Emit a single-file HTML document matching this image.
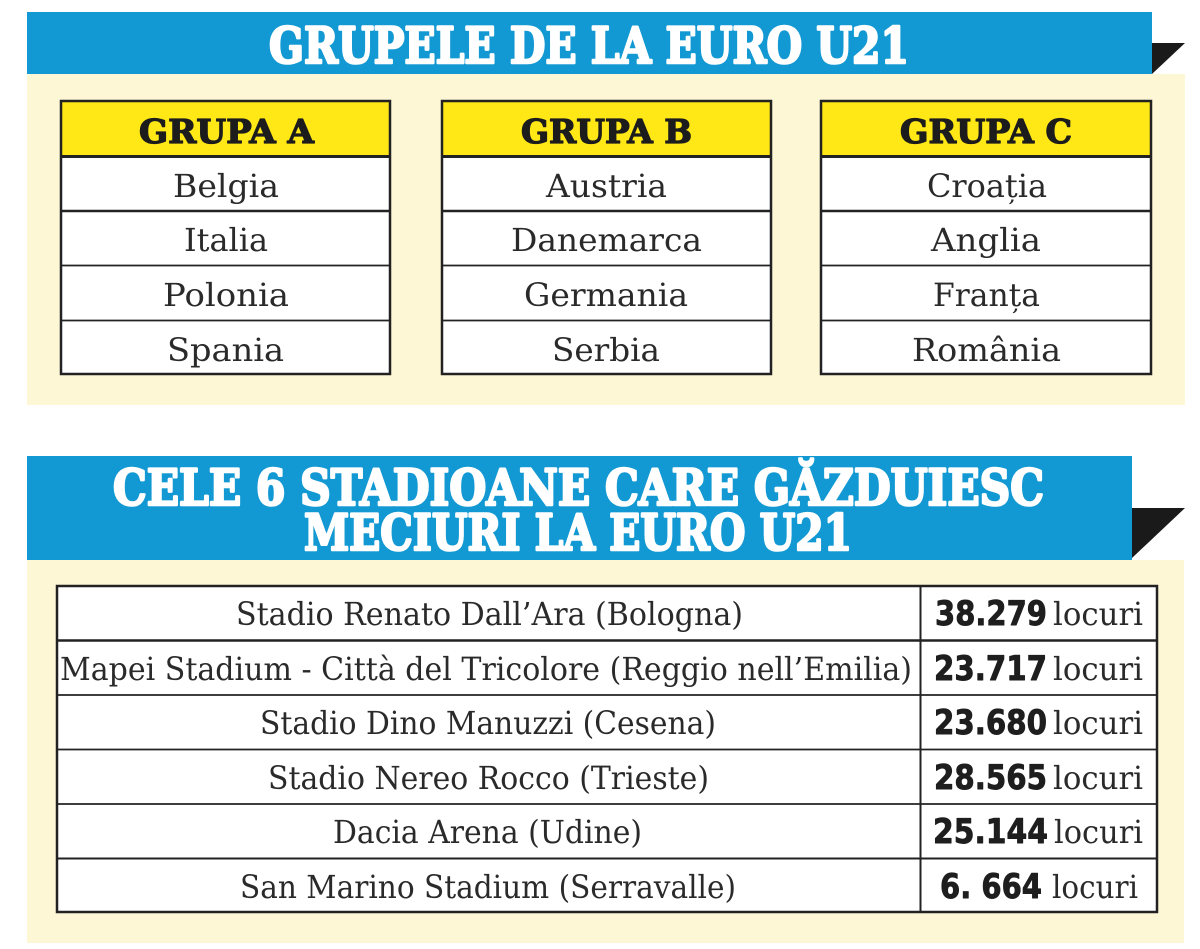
<!DOCTYPE html>
<html>
<head>
<meta charset="utf-8">
<style>
  html,body{margin:0;padding:0;background:#ffffff;}
  svg{display:block;}
  .t{font-family:"DejaVu Serif","Liberation Serif",serif;font-weight:bold;fill:#ffffff;stroke:#ffffff;stroke-width:2.6;stroke-linejoin:round;}
  .h{font-family:"DejaVu Serif","Liberation Serif",serif;font-weight:bold;fill:#1c1c1c;stroke:#1c1c1c;stroke-width:1.3;stroke-linejoin:round;}
  .b{font-family:"DejaVu Serif","Liberation Serif",serif;font-weight:normal;fill:#2a2a2a;}
  .n{font-family:"DejaVu Sans","Liberation Sans",sans-serif;font-weight:bold;fill:#1e1e1e;stroke:#1e1e1e;stroke-width:0.9;stroke-linejoin:round;}
</style>
</head>
<body>
<svg width="1200" height="949" viewBox="0 0 1200 949" xmlns="http://www.w3.org/2000/svg">
  <rect x="0" y="0" width="1200" height="949" fill="#ffffff"/>

  <!-- Panel 1 -->
  <rect x="27" y="74" width="1158" height="331" fill="#fdf7d6"/>
  <rect x="27" y="12" width="1125" height="62" fill="#1298d2"/>
  <polygon points="1152,43 1185,43 1152,74" fill="#1a1a1a"/>
  <text class="t" x="269" y="63" font-size="50" textLength="640" lengthAdjust="spacingAndGlyphs">GRUPELE DE LA EURO U21</text>

  <!-- Group tables -->
  <g>
    <rect x="60" y="100" width="331" height="56" fill="#ffe816"/>
    <rect x="60" y="156" width="331" height="219" fill="#ffffff"/>
    <rect x="441" y="100" width="331" height="56" fill="#ffe816"/>
    <rect x="441" y="156" width="331" height="219" fill="#ffffff"/>
    <rect x="820" y="100" width="332" height="56" fill="#ffe816"/>
    <rect x="820" y="156" width="332" height="219" fill="#ffffff"/>

    <g stroke="#222" fill="none">
      <rect x="61" y="101" width="329" height="273" stroke-width="2.5"/>
      <rect x="442" y="101" width="329" height="273" stroke-width="2.5"/>
      <rect x="821" y="101" width="330" height="273" stroke-width="2.5"/>
      <path d="M60 156.5H391M441 156.5H772M820 156.5H1152" stroke-width="3"/>
      <path d="M60 211H391M441 211H772M820 211H1152" stroke-width="2.5"/>
      <path d="M60 265.5H391M441 265.5H772M820 265.5H1152" stroke-width="1.8"/>
      <path d="M60 320.5H391M441 320.5H772M820 320.5H1152" stroke-width="1.8"/>
    </g>

    <text class="h" x="139" y="143" font-size="33" textLength="175" lengthAdjust="spacingAndGlyphs">GRUPA A</text>
    <text class="h" x="521" y="143" font-size="33" textLength="171" lengthAdjust="spacingAndGlyphs">GRUPA B</text>
    <text class="h" x="900" y="143" font-size="33" textLength="172" lengthAdjust="spacingAndGlyphs">GRUPA C</text>

    <text class="b" x="173" y="197" font-size="32" textLength="106" lengthAdjust="spacingAndGlyphs">Belgia</text>
    <text class="b" x="184" y="251" font-size="32" textLength="84" lengthAdjust="spacingAndGlyphs">Italia</text>
    <text class="b" x="163" y="306" font-size="32" textLength="126" lengthAdjust="spacingAndGlyphs">Polonia</text>
    <text class="b" x="167" y="361" font-size="32" textLength="117" lengthAdjust="spacingAndGlyphs">Spania</text>

    <text class="b" x="546" y="197" font-size="32" textLength="121" lengthAdjust="spacingAndGlyphs">Austria</text>
    <text class="b" x="511" y="251" font-size="32" textLength="191" lengthAdjust="spacingAndGlyphs">Danemarca</text>
    <text class="b" x="524" y="306" font-size="32" textLength="164" lengthAdjust="spacingAndGlyphs">Germania</text>
    <text class="b" x="552" y="361" font-size="32" textLength="108" lengthAdjust="spacingAndGlyphs">Serbia</text>

    <text class="b" x="927" y="197" font-size="32" textLength="120" lengthAdjust="spacingAndGlyphs">Croația</text>
    <text class="b" x="931" y="251" font-size="32" textLength="110" lengthAdjust="spacingAndGlyphs">Anglia</text>
    <text class="b" x="933" y="306" font-size="32" textLength="107" lengthAdjust="spacingAndGlyphs">Franța</text>
    <text class="b" x="912" y="361" font-size="32" textLength="149" lengthAdjust="spacingAndGlyphs">România</text>
  </g>

  <!-- Panel 2 -->
  <rect x="27" y="560" width="1157" height="383" fill="#fdf7d6"/>
  <rect x="27" y="456" width="1105" height="104" fill="#1298d2"/>
  <polygon points="1132,508 1185,508 1132,558" fill="#1a1a1a"/>
  <text class="t" x="113" y="505" font-size="50" textLength="931" lengthAdjust="spacingAndGlyphs">CELE 6 STADIOANE CARE GĂZDUIESC</text>
  <text class="t" x="304" y="550" font-size="50" textLength="548" lengthAdjust="spacingAndGlyphs">MECIURI LA EURO U21</text>

  <!-- Stadium table -->
  <rect x="56" y="585" width="1102" height="328" fill="#ffffff"/>
  <g stroke="#222" fill="none">
    <rect x="57" y="586" width="1100" height="326" stroke-width="2.5"/>
    <path d="M920.5 585V913" stroke-width="2"/>
    <path d="M56 640.5H1158" stroke-width="2.5"/>
    <path d="M56 695H1158" stroke-width="1.8"/>
    <path d="M56 749.5H1158" stroke-width="1.8"/>
    <path d="M56 804H1158" stroke-width="1.8"/>
    <path d="M56 858.5H1158" stroke-width="2"/>
  </g>

  <text class="b" x="236" y="625" font-size="32" textLength="507" lengthAdjust="spacingAndGlyphs">Stadio Renato Dall’Ara (Bologna)</text>
  <text class="b" x="60" y="680" font-size="32" textLength="852" lengthAdjust="spacingAndGlyphs">Mapei Stadium - Città del Tricolore (Reggio nell’Emilia)</text>
  <text class="b" x="260" y="734" font-size="32" textLength="456" lengthAdjust="spacingAndGlyphs">Stadio Dino Manuzzi (Cesena)</text>
  <text class="b" x="268" y="789" font-size="32" textLength="441" lengthAdjust="spacingAndGlyphs">Stadio Nereo Rocco (Trieste)</text>
  <text class="b" x="333" y="843" font-size="32" textLength="309" lengthAdjust="spacingAndGlyphs">Dacia Arena (Udine)</text>
  <text class="b" x="240" y="898" font-size="32" textLength="496" lengthAdjust="spacingAndGlyphs">San Marino Stadium (Serravalle)</text>

  <text class="n" x="935" y="625" font-size="34" textLength="112" lengthAdjust="spacingAndGlyphs">38.279</text>
  <text class="b" x="1053" y="625" font-size="32" textLength="90" lengthAdjust="spacingAndGlyphs">locuri</text>
  <text class="n" x="934" y="680" font-size="34" textLength="113" lengthAdjust="spacingAndGlyphs">23.717</text>
  <text class="b" x="1053" y="680" font-size="32" textLength="90" lengthAdjust="spacingAndGlyphs">locuri</text>
  <text class="n" x="934" y="734" font-size="34" textLength="113" lengthAdjust="spacingAndGlyphs">23.680</text>
  <text class="b" x="1053" y="734" font-size="32" textLength="90" lengthAdjust="spacingAndGlyphs">locuri</text>
  <text class="n" x="934" y="789" font-size="34" textLength="113" lengthAdjust="spacingAndGlyphs">28.565</text>
  <text class="b" x="1053" y="789" font-size="32" textLength="90" lengthAdjust="spacingAndGlyphs">locuri</text>
  <text class="n" x="933" y="843" font-size="34" textLength="115" lengthAdjust="spacingAndGlyphs">25.144</text>
  <text class="b" x="1054" y="843" font-size="32" textLength="89" lengthAdjust="spacingAndGlyphs">locuri</text>
  <text class="n" x="940" y="898" font-size="34" textLength="102" lengthAdjust="spacingAndGlyphs">6. 664</text>
  <text class="b" x="1052" y="898" font-size="32" textLength="86" lengthAdjust="spacingAndGlyphs">locuri</text>
</svg>
</body>
</html>
